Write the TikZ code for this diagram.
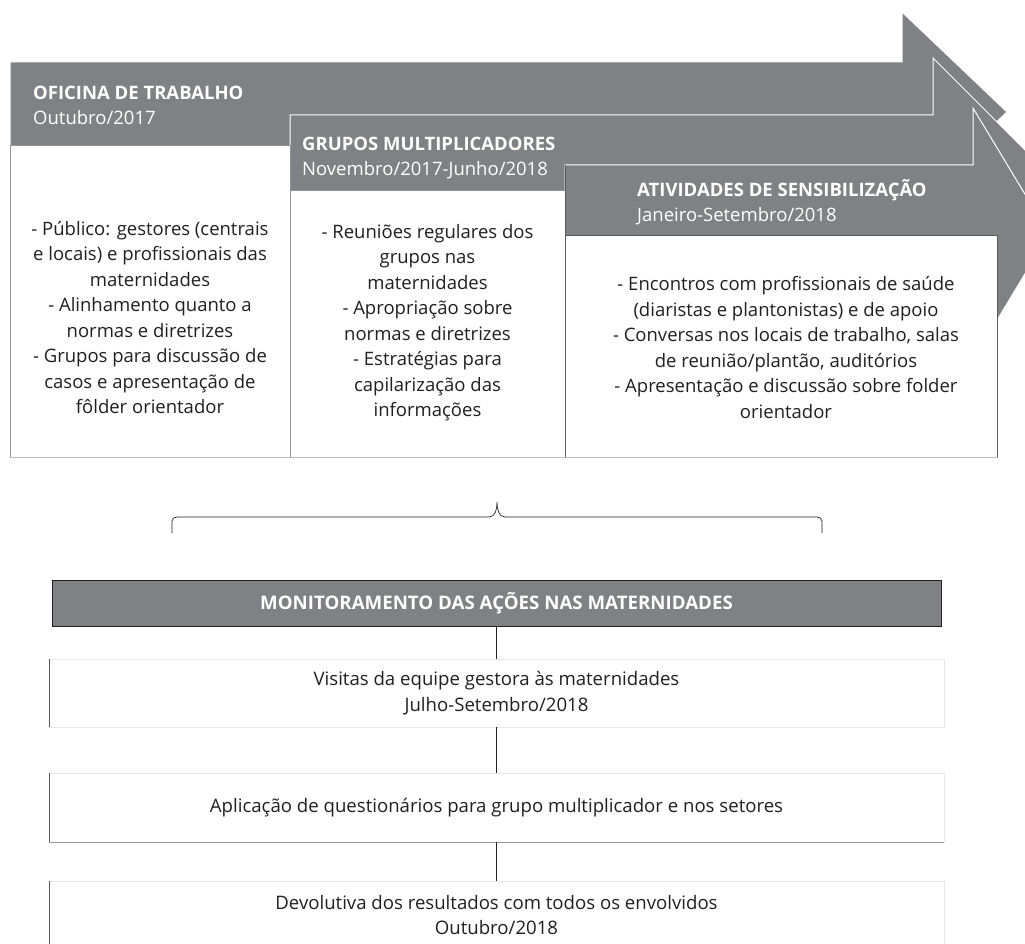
\documentclass[tikz,border=0pt]{standalone}
\usepackage{fontspec}
\setmainfont{Open Sans}
\definecolor{hdr}{HTML}{808184}
\definecolor{txt}{HTML}{231F20}
\definecolor{bdr}{HTML}{BCBEC0}
\definecolor{bdrm}{HTML}{939598}
\definecolor{bdrd}{HTML}{58595B}
\definecolor{bdrl}{HTML}{E6E7E8}
\begin{document}
\begin{tikzpicture}[x=1pt,y=-1pt,
  arrowshape/.style={fill=hdr, draw=white, line width=1pt, line join=miter},
  topbox/.style={rectangle, fill=white, draw=bdrm, line width=0.6pt, inner sep=0, outer sep=0},
  hdrb/.style={text=white, font=\fontsize{18.5}{25}\selectfont\bfseries, inner sep=0, anchor=base west},
  hdrr/.style={text=white, font=\fontsize{18.5}{25}\selectfont, inner sep=0, anchor=base west},
  bodytext/.style={text=txt, font=\fontsize{18.5}{25.5}\selectfont, align=center, inner sep=0},
  lowbox/.style={rectangle, fill=white, draw=none, inner sep=0, outer sep=0, minimum width=895pt, text=txt, font=\fontsize{18.6}{25.5}\selectfont, align=center},
  montitle/.style={rectangle, fill=hdr, draw=txt, line width=0.7pt, inner sep=0, minimum width=889pt, minimum height=46pt, text=white, font=\fontsize{18.7}{24}\selectfont\bfseries},
  conn/.style={draw=txt, line width=0.9pt},
  darkside/.style={draw=bdrd, line width=0.9pt},
  lightside/.style={draw=bdrl, line width=0.8pt},
  bracestyle/.style={draw=txt, line width=0.7pt}
]
\useasboundingbox (0,0) rectangle (1025,944);
\clip (0,0) rectangle (1025,944);
\fill[white] (0,0) rectangle (1025,944);

% arrows
\draw[arrowshape] (10,62) -- (902,62) -- (902,12) -- (1007,112) -- (902,212) -- (902,162) -- (10,162) -- cycle;
\draw[arrowshape] (290,115) -- (933,115) -- (933,58) -- (1050,175) -- (933,292) -- (933,235) -- (290,235) -- cycle;
\draw[arrowshape] (565,165) -- (973,165) -- (973,108) -- (1049,234) -- (973,360) -- (973,303) -- (565,303) -- cycle;

% white boxes
\node[topbox, minimum width=280pt, minimum height=312pt] (b1) at (150,301) {};
\node[topbox, minimum width=275pt, minimum height=267pt] (b2) at (427.5,323.5) {};
\node[topbox, minimum width=432pt, minimum height=222pt] (b3) at (781,346) {};
\draw[darkside, draw=bdrm] (b1.north west) -- (b1.south west);
\draw[darkside] (b3.south west) -- (565,165);
\draw[darkside] (b3.north west) -- (b3.north east) -- (b3.south east);
\draw[draw=bdr, line width=0.8pt] (b1.south west) -- (b3.south east);

% header texts
\node[hdrb] (h1a) at (33,99.5) {OFICINA DE TRABALHO};
\node[hdrr] (h1b) at (33,124.5) {Outubro/2017};
\node[hdrb] (h2a) at (302,150.5) {GRUPOS MULTIPLICADORES};
\node[hdrr] (h2b) at (302,176) {Novembro/2017-Junho/2018};
\node[hdrb] (h3a) at (637,196.5) {ATIVIDADES DE SENSIBILIZAÇÃO};
\node[hdrr] (h3b) at (637,221.5) {Janeiro-Setembro/2018};

% body texts
\node[bodytext] (t1) at (150,317.5) {- Público: gestores (centrais\\e locais) e profissionais das\\maternidades\\- Alinhamento quanto a\\normas e diretrizes\\- Grupos para discussão de\\casos e apresentação de\\fôlder orientador};
\node[bodytext] (t2) at (427.5,322.5) {- Reuniões regulares dos\\grupos nas\\maternidades\\- Apropriação sobre\\normas e diretrizes\\- Estratégias para\\capilarização das\\informações};
\node[bodytext] (t3) at (786,347.5) {- Encontros com profissionais de saúde\\(diaristas e plantonistas) e de apoio\\- Conversas nos locais de trabalho, salas\\de reunião/plantão, auditórios\\- Apresentação e discussão sobre folder\\orientador};

% brace
\coordinate (bl) at (172,533);
\coordinate (br) at (822,533);
\coordinate (bm) at (497,502);
\draw[bracestyle] (bl) -- (172,521) to[out=90,in=180] (177,517) -- (489,517) to[out=0,in=-90] (bm) to[out=-90,in=180] (505,517) -- (817,517) to[out=0,in=90] (822,521) -- (br);

% monitoring
\node[montitle] (mon) at (496.5,603) {MONITORAMENTO DAS AÇÕES NAS MATERNIDADES};
\node[lowbox, minimum height=68pt] (vis) at (496.5,693) {Visitas da equipe gestora às maternidades\\Julho-Setembro/2018};
\node[lowbox, minimum height=69pt] (apl) at (496.5,807.5) {Aplicação de questionários para grupo multiplicador e nos setores};
\node[lowbox, minimum height=68pt] (dev) at (496.5,915) {Devolutiva dos resultados com todos os envolvidos\\Outubro/2018};

\draw[lightside] (vis.north west) -- (vis.north east) -- (vis.south east) -- (vis.south west);
\draw[darkside] (vis.north west) -- (vis.south west);
\draw[lightside] (apl.north west) -- (apl.north east) -- (apl.south east);
\draw[darkside, draw=bdrm] (apl.south east) -- (apl.south west);
\draw[darkside] (apl.south west) -- (apl.north west);
\draw[lightside] (dev.north west) -- (dev.north east) -- (dev.south east);
\draw[darkside] (dev.north west) -- (dev.south west);

\draw[conn] (mon.south) -- (vis.north);
\draw[conn] (vis.south) -- (apl.north);
\draw[conn] (apl.south) -- (dev.north);
\end{tikzpicture}
\end{document}
